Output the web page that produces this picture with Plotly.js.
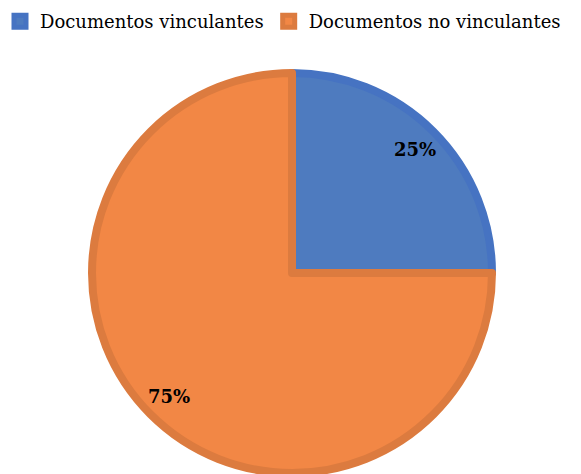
<!DOCTYPE html>
<html>
<head>
<meta charset="utf-8">
<script src="https://cdn.plot.ly/plotly-3.0.1.min.js"></script>
<style>html,body{margin:0;padding:0;background:#fff;}#chart{width:581px;height:474px;}</style>
</head>
<body>
<div id="chart"></div>
<script>
const labels = ["Documentos vinculantes", "Documentos no vinculantes"];
const values = [25, 75];
const fillColors = ["#4e7bbf", "#f28745"];
const lineColors = ["#4673c2", "#dc7b3f"];

const W = 581, H = 474;
const cxPx = 292, cyPx = 273, rPx = 200;
const dom = {
  x: [(cxPx - rPx) / W, (cxPx + rPx) / W],
  y: [(H - cyPx - rPx) / H, (H - cyPx + rPx) / H]
};

const total = values.reduce((a, b) => a + b, 0);
const labelR = 0.87;
let cum = 0;
const annotations = values.map((v) => {
  const mid = (cum + v / 2) / total;
  cum += v;
  const ang = mid * 2 * Math.PI;
  const dx = Math.sin(ang) * rPx * labelR;
  const dy = Math.cos(ang) * rPx * labelR;
  return {
    x: (cxPx + dx) / W, y: (H - cyPx + dy) / H, xref: "paper", yref: "paper",
    xanchor: "center", yanchor: "middle",
    text: "<b>" + Math.round(v / total * 100) + "%</b>", showarrow: false,
    font: {family: "DejaVu Serif", size: 18, color: "#000"}
  };
});

Plotly.newPlot("chart", [{
  type: "pie",
  labels: labels,
  values: values,
  sort: false,
  direction: "clockwise",
  rotation: 0,
  textinfo: "none",
  hoverinfo: "none",
  domain: dom,
  marker: {colors: fillColors, line: {color: lineColors, width: 8}}
}], {
  width: W, height: H,
  margin: {l: 0, r: 0, t: 0, b: 0},
  paper_bgcolor: "#fff",
  showlegend: true,
  legend: {orientation: "h", x: 0, y: 1 - 3 / H, xanchor: "left", yanchor: "top",
    font: {family: "DejaVu Serif", size: 18, color: "#000"}, bgcolor: "rgba(0,0,0,0)"},
  annotations: annotations
}, {staticPlot: true});
</script>
</body>
</html>
